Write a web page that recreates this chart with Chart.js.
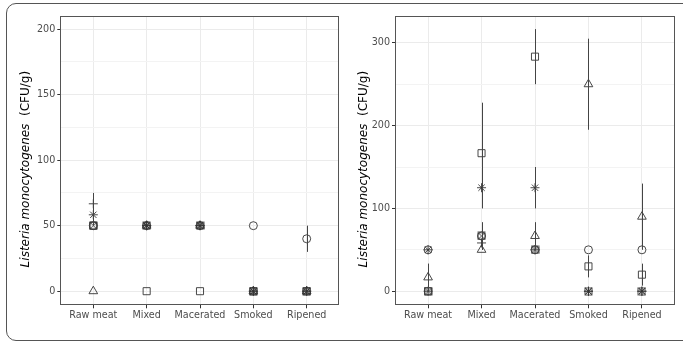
<!DOCTYPE html>
<html><head><meta charset="utf-8">
<script src="https://cdn.jsdelivr.net/npm/chart.js@4/dist/chart.umd.min.js"></script>
<style>
html,body{margin:0;padding:0;background:#fff;}
#wrap{position:relative;width:683px;height:342px;overflow:hidden;background:#fff;}
#frame{position:absolute;left:6px;top:3px;width:720px;height:338px;border:1.3px solid #555;border-radius:10px;box-sizing:border-box;}
#c1{position:absolute;left:0;top:0;}
#c2{position:absolute;left:345px;top:0;}
</style></head><body>
<div id="wrap"><div id="frame"></div>
<canvas id="c1" width="345" height="342"></canvas>
<canvas id="c2" width="338" height="342"></canvas>
</div>
<script>
// ---- data ----
const categories = ['Raw meat', 'Mixed', 'Macerated', 'Smoked', 'Ripened'];
const yTitleItalic = 'Listeria monocytogenes';
const yTitleUnit = '  (CFU/g)';

// left panel (mean, sd)
const leftSquare       = [50, 0, 0, 0, 0];
const leftSquareSd     = [0, 0, 0, 0, 0];
const leftCircle       = [50, 50, 50, 50, 40];
const leftCircleSd     = [0, 0, 0, 0, 10];
const leftTriangle     = [0, 50, 50, 0, 0];
const leftTriangleSd   = [0, 0, 0, 0, 0];
const leftPlus         = [66.7, 50, 50, 0, 0];
const leftPlusSd       = [8.3, 0, 0, 0, 0];
const leftBoxCross     = [50, 50, 50, 0, 0];
const leftBoxCrossSd   = [0, 0, 0, 0, 0];
const leftStar         = [58.3, 50, 50, 0, 0];
const leftStarSd       = [8.3, 0, 0, 0, 0];
const leftTicks        = [0, 50, 100, 150, 200];

// right panel (mean, sd)
const rightSquare      = [0, 166.7, 283.3, 30, 20];
const rightSquareSd    = [0, 61, 33.3, 13.3, 13.3];
const rightCircle      = [50, 66.7, 50, 50, 50];
const rightCircleSd    = [0, 0, 0, 0, 0];
const rightTriangle    = [16.7, 50, 66.7, 250, 90];
const rightTriangleSd  = [16.7, 0, 16.7, 55, 40];
const rightPlus        = [0, 58.3, 50, 0, 0];
const rightPlusSd      = [0, 8.3, 0, 0, 0];
const rightBoxCross    = [0, 66.7, 50, 0, 0];
const rightBoxCrossSd  = [0, 16.7, 0, 0, 0];
const rightStar        = [50, 125, 125, 0, 0];
const rightStarSd      = [0, 25, 25, 0, 0];
const rightTicks       = [0, 100, 200, 300];

// ---- drawing ----
const FONT = '"DejaVu Sans", "Liberation Sans", sans-serif';
const INK = '#333333';

function boxCrossMarker() {
  const c = document.createElement('canvas');
  c.width = 9; c.height = 9;
  const g = c.getContext('2d');
  g.strokeStyle = INK; g.lineWidth = 0.9;
  g.strokeRect(1, 1, 7, 7);
  g.beginPath();
  g.moveTo(1, 1); g.lineTo(8, 8);
  g.moveTo(8, 1); g.lineTo(1, 8);
  g.stroke();
  return c;
}

const shapeDefs = [
  {style: 'rect', radius: 5},
  {style: 'circle', radius: 4},
  {style: 'triangle', radius: 5},
  {style: 'cross', radius: 4.5},
  {style: boxCrossMarker(), radius: 4.5},
  {style: 'star', radius: 4.5}
];

function buildDatasets(series) {
  return series.map((s, k) => ({
    label: 'S' + k,
    data: s[0].map((v, i) => ({x: i, y: v})),
    sd: s[1],
    pointStyle: shapeDefs[k].style,
    pointRadius: shapeDefs[k].radius,
    pointHoverRadius: shapeDefs[k].radius,
    borderColor: INK,
    backgroundColor: 'rgba(0,0,0,0)',
    pointBorderWidth: 0.9,
    showLine: false
  }));
}

const errorBars = {
  id: 'errorBars',
  afterDatasetsDraw(chart) {
    const ctx = chart.ctx, xs = chart.scales.x, ys = chart.scales.y;
    ctx.save();
    ctx.strokeStyle = '#444';
    ctx.lineWidth = 1;
    chart.data.datasets.forEach(ds => {
      ds.data.forEach((p, i) => {
        const sd = ds.sd[i];
        if (!sd) return;
        const px = Math.round(xs.getPixelForValue(p.x)) + 0.5;
        ctx.beginPath();
        ctx.moveTo(px, ys.getPixelForValue(p.y - sd));
        ctx.lineTo(px, ys.getPixelForValue(p.y + sd));
        ctx.stroke();
      });
    });
    ctx.restore();
  }
};

const frameAndTitle = {
  id: 'frameAndTitle',
  afterDraw(chart, args, opts) {
    const ctx = chart.ctx, a = chart.chartArea;
    ctx.save();
    ctx.strokeStyle = '#555';
    ctx.lineWidth = 1;
    ctx.strokeRect(Math.round(a.left) - 0.5, Math.round(a.top) + 0.5, Math.round(a.right - a.left) + 1, Math.round(a.bottom - a.top));
    const fi = 'italic 12px ' + FONT, fn = '12px ' + FONT;
    ctx.font = fi; const w1 = ctx.measureText(yTitleItalic).width;
    ctx.font = fn; const w2 = ctx.measureText(yTitleUnit).width;
    const cy = (a.top + a.bottom) / 2 + opts.dy;
    ctx.translate(opts.x, cy);
    ctx.rotate(-Math.PI / 2);
    ctx.fillStyle = '#000';
    ctx.textBaseline = 'middle';
    ctx.textAlign = 'left';
    ctx.font = fi; ctx.fillText(yTitleItalic, -(w1 + w2) / 2, 0);
    ctx.font = fn; ctx.fillText(yTitleUnit, -(w1 + w2) / 2 + w1, 0);
    ctx.restore();
  }
};

function makePanel(canvas, series, yMin, yMax, majorTicks, areaLeft, areaRight, titleX) {
  const W = canvas.width, H = canvas.height;
  const step = majorTicks[1] - majorTicks[0];
  const allTicks = [];
  for (let v = majorTicks[0] - step / 2; v <= majorTicks[majorTicks.length - 1] + step / 2 + 1e-9; v += step / 2) {
    if (v >= yMin && v <= yMax) allTicks.push(v);
  }
  const isMajor = v => majorTicks.indexOf(v) >= 0;
  return new Chart(canvas, {
    type: 'scatter',
    data: {datasets: buildDatasets(series)},
    options: {
      responsive: false, animation: false, devicePixelRatio: 1,
      layout: {padding: {left: 0, top: 16, right: W - areaRight, bottom: 0}},
      plugins: {legend: {display: false}, tooltip: {enabled: false},
        frameAndTitle: {x: titleX, dy: 9}},
      scales: {
        x: {
          type: 'linear', min: -0.6, max: 4.6,
          afterBuildTicks: s => { s.ticks = categories.map((c, i) => ({value: i})); },
          afterFit: s => { s.height = H - 304.3; },
          ticks: {callback: (v, i) => categories[i], color: '#4d4d4d', font: {family: FONT, size: 9.6},
            autoSkip: false, maxRotation: 0, padding: 1},
          grid: {color: '#ebebeb', lineWidth: 1, tickColor: INK, tickLength: 4},
          border: {display: false}
        },
        y: {
          min: yMin, max: yMax,
          afterBuildTicks: s => { s.ticks = allTicks.map(v => ({value: v})); },
          afterFit: s => { s.width = areaLeft; },
          ticks: {callback: v => isMajor(v) ? String(v) : '', color: '#4d4d4d', font: {family: FONT, size: 9.6},
            autoSkip: false, padding: 2},
          grid: {
            color: c => (c.tick && isMajor(c.tick.value)) ? '#ebebeb' : '#f3f3f3',
            lineWidth: 1,
            tickColor: c => (c.tick && isMajor(c.tick.value)) ? INK : 'rgba(0,0,0,0)',
            tickLength: 4
          },
          border: {display: false}
        }
      }
    },
    plugins: [errorBars, frameAndTitle]
  });
}

makePanel(document.getElementById('c1'), [
  [leftSquare, leftSquareSd], [leftCircle, leftCircleSd], [leftTriangle, leftTriangleSd],
  [leftPlus, leftPlusSd], [leftBoxCross, leftBoxCrossSd], [leftStar, leftStarSd]
], -10, 210, leftTicks, 61.3, 338.7, 26);

makePanel(document.getElementById('c2'), [
  [rightSquare, rightSquareSd], [rightCircle, rightCircleSd], [rightTriangle, rightTriangleSd],
  [rightPlus, rightPlusSd], [rightBoxCross, rightBoxCrossSd], [rightStar, rightStarSd]
], -15.8, 332.4, rightTicks, 51, 329, 19);
</script>
</body></html>
